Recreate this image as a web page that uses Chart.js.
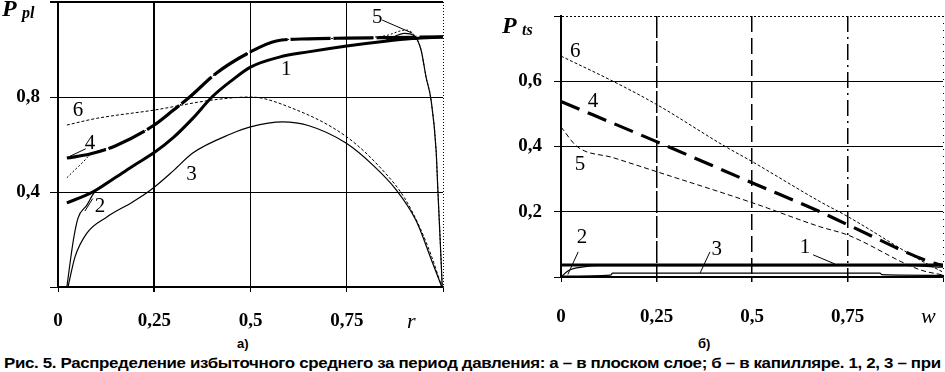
<!DOCTYPE html>
<html>
<head>
<meta charset="utf-8">
<script src="https://cdn.jsdelivr.net/npm/chart.js@4.4.1/dist/chart.umd.min.js"></script>
<style>
  body { margin: 0; background: #fff; width: 945px; height: 372px; overflow: hidden; position: relative; }
  canvas { position: absolute; top: 0; }
  #chartA { left: 0; }
  #chartB { left: 470px; }
  .sub { position: absolute; top: 336px; font: bold 13px "Liberation Sans", Arial, sans-serif; }
  #caption { position: absolute; left: 4px; top: 354px; white-space: nowrap; transform-origin: 0 0;
             font: bold 15px "Liberation Sans", Arial, sans-serif; letter-spacing: -0.3px; }
</style>
</head>
<body>
<canvas id="chartA" width="460" height="335"></canvas>
<canvas id="chartB" width="475" height="335"></canvas>
<div class="sub" style="left:237px">а)</div>
<div class="sub" style="left:698px">б)</div>
<div id="caption">Рис. 5. Распределение избыточного среднего за период давления: а – в плоском слое; б – в капилляре. 1, 2, 3 – при</div>

<script>
// а) плоский слой: P_pl(r)
const rA1 = [0.023, 0.09, 0.15, 0.2, 0.25, 0.3, 0.35, 0.4, 0.45, 0.5, 0.575, 0.65, 0.75, 0.85, 0.92, 1.0];
const pA1 = [0.354, 0.4, 0.462, 0.515, 0.566, 0.63, 0.71, 0.8, 0.868, 0.926, 0.968, 0.99, 1.015, 1.035, 1.046, 1.053];

const rA2 = [0.023, 0.04, 0.052, 0.075, 0.095, 0.15, 0.2, 0.25, 0.3, 0.35, 0.4, 0.45, 0.5, 0.575, 0.65, 0.75, 0.85, 0.9, 0.925, 0.943, 0.956, 0.969, 0.982, 0.987, 0.995, 0.998];
const pA2 = [0, 0.198, 0.29, 0.345, 0.4, 0.462, 0.515, 0.566, 0.63, 0.71, 0.8, 0.868, 0.926, 0.968, 0.99, 1.015, 1.038, 1.068, 1.058, 0.998, 0.884, 0.787, 0.577, 0.396, 0.114, 0];

const rA3 = [0.026, 0.044, 0.075, 0.127, 0.194, 0.238, 0.3, 0.35, 0.45, 0.5, 0.583, 0.65, 0.748, 0.82, 0.878, 0.93, 0.97, 0.997];
const pA3 = [0, 0.126, 0.227, 0.295, 0.358, 0.405, 0.49, 0.564, 0.645, 0.674, 0.695, 0.68, 0.606, 0.51, 0.41, 0.28, 0.114, 0];

const rA4 = [0.023, 0.083, 0.15, 0.25, 0.3, 0.342, 0.411, 0.5, 0.567, 0.65, 0.75, 0.85, 1.0];
const pA4 = [0.543, 0.56, 0.595, 0.682, 0.745, 0.8, 0.9, 0.99, 1.036, 1.045, 1.048, 1.05, 1.053];

const rA5 = [0.023, 0.045, 0.065, 0.083, 0.15, 0.25, 0.3, 0.342, 0.411, 0.5, 0.567, 0.65, 0.75, 0.85, 0.904, 0.925, 0.943, 0.956, 0.969, 0.982, 0.987, 0.995, 0.998];
const pA5 = [0.46, 0.495, 0.526, 0.556, 0.595, 0.682, 0.745, 0.8, 0.9, 0.99, 1.036, 1.045, 1.048, 1.058, 1.082, 1.061, 0.998, 0.884, 0.787, 0.577, 0.396, 0.114, 0];

const rA6 = [0.023, 0.1, 0.25, 0.4, 0.5, 0.6, 0.75, 0.85, 0.9, 0.94, 0.97, 0.997];
const pA6 = [0.682, 0.71, 0.745, 0.787, 0.8, 0.758, 0.632, 0.48, 0.375, 0.25, 0.13, 0];

// б) капилляр: P_ts(w)
const wB1 = [0, 1];
const pB1 = [0.037, 0.037];
const wB2 = [0, 0.02, 0.058, 0.1, 0.9, 1];
const pB2 = [0, 0.02, 0.031, 0.035, 0.035, 0.03];
const wB3 = [0, 0.13, 0.135, 0.835, 0.84, 1];
const pB3 = [0.003, 0.006, 0.012, 0.012, 0.007, 0.005];
const wB4 = [0, 0.25, 0.5, 0.678, 0.751, 0.966, 1];
const pB4 = [0.538, 0.415, 0.289, 0.2, 0.16, 0.046, 0.035];
const wB5 = [0, 0.042, 0.136, 0.25, 0.5, 0.678, 0.75, 0.94, 1];
const pB5 = [0.46, 0.4, 0.366, 0.323, 0.228, 0.154, 0.129, 0.022, 0.006];
const wB6 = [0, 0.136, 0.25, 0.43, 0.5, 0.678, 0.751, 0.94, 1];
const pB6 = [0.677, 0.6, 0.529, 0.4, 0.354, 0.231, 0.185, 0.052, 0.015];

// curve numbers (data coords) and leader lines
const noteTextA = ['6', '4', '1', '5', '3', '2'];
const noteRA = [0.052, 0.083, 0.593, 0.829, 0.347, 0.109];
const notePA = [0.745, 0.606, 0.914, 1.133, 0.472, 0.337];
const leadA = [[0.028, 0.548, 0.072, 0.582], [0.842, 1.124, 0.92, 1.069], [0.07, 0.32, 0.09, 0.372]];

const noteTextB = ['6', '4', '5', '2', '3', '1'];
const noteWB = [0.037, 0.084, 0.05, 0.055, 0.408, 0.639];
const notePB = [0.692, 0.538, 0.345, 0.12, 0.083, 0.089];
const leadB = [[0.045, 0.077, 0.018, 0.008], [0.39, 0.077, 0.364, 0.012], [0.66, 0.068, 0.717, 0.04]];

const fmt = v => String(Math.round(v * 100) / 100).replace('.', ',');

function series(xs, ys, width, dash) {
  return {
    data: xs.map((v, i) => ({ x: v, y: ys[i] })),
    borderColor: '#000',
    borderWidth: width,
    borderDash: dash,
    pointRadius: 0,
    fill: false,
    cubicInterpolationMode: 'monotone'
  };
}

function notes(texts, xs, ys, leads, title) {
  return {
    id: 'notes',
    afterDatasetsDraw(chart) {
      const { ctx, scales: { x, y } } = chart;
      ctx.save();
      ctx.strokeStyle = '#000';
      ctx.lineWidth = 1;
      leads.forEach(l => {
        ctx.beginPath();
        ctx.moveTo(x.getPixelForValue(l[0]), y.getPixelForValue(l[1]));
        ctx.lineTo(x.getPixelForValue(l[2]), y.getPixelForValue(l[3]));
        ctx.stroke();
      });
      ctx.fillStyle = '#000';
      ctx.font = '21px "Liberation Serif"';
      ctx.textAlign = 'center';
      ctx.textBaseline = 'middle';
      texts.forEach((t, i) => ctx.fillText(t, x.getPixelForValue(xs[i]), y.getPixelForValue(ys[i])));
      // axis titles
      ctx.textAlign = 'left';
      ctx.textBaseline = 'alphabetic';
      ctx.font = 'italic bold 24px "Liberation Serif"';
      ctx.fillText('P', title.px, title.py);
      ctx.font = 'italic bold 16px "Liberation Serif"';
      ctx.fillText(title.sub, title.px + 20, title.py + 2);
      ctx.font = 'italic 22px "Liberation Serif"';
      ctx.fillText(title.axis, title.ax, title.ay);
      ctx.restore();
    }
  };
}

function makeChart(id, datasets, yMax, yStep, yWidth, xHeight, pad, xGrid, yGrid, xPad, yTick, yPad, plugin) {
  return new Chart(document.getElementById(id), {
    type: 'line',
    data: { datasets: datasets },
    options: {
      responsive: false,
      animation: false,
      devicePixelRatio: 1,
      layout: { padding: pad },
      plugins: { legend: { display: false }, tooltip: { enabled: false } },
      scales: {
        x: {
          type: 'linear', min: 0, max: 1,
          afterFit: s => { s.height = xHeight; s.paddingLeft = 0; s.paddingRight = 0; },
          ticks: {
            stepSize: 0.25, padding: xPad, color: '#000', autoSkip: false, maxRotation: 0,
            font: { family: 'Liberation Serif', size: 19, weight: 'bold' },
            callback: v => (v >= 1 ? '' : fmt(v))
          },
          grid: { color: '#000', lineWidth: c => xGrid(c).w, tickLength: 5 },
          border: { color: '#000', width: 1.5, dash: c => (c.tick ? xGrid(c).d : []) }
        },
        y: {
          min: 0, max: yMax,
          afterFit: s => { s.width = yWidth; s.paddingTop = 0; s.paddingBottom = 0; },
          ticks: {
            stepSize: yStep, padding: yPad, color: '#000',
            font: { family: 'Liberation Serif', size: 19, weight: 'bold' },
            callback: v => (v <= 0 || v >= yMax - 1e-6 ? '' : fmt(v))
          },
          grid: { color: '#000', lineWidth: c => yGrid(c).w, tickLength: yTick },
          border: { color: '#000', width: 2, dash: c => (c.tick ? yGrid(c).d : []) }
        }
      }
    },
    plugins: [plugin]
  });
}

makeChart('chartA', [
    series(rA3, pA3, 1.2, []),
    series(rA6, pA6, 1, [3, 2]),
    series(rA2, pA2, 1.2, []),
    series(rA5, pA5, 1, [2, 2]),
    series(rA1, pA1, 3, []),
    series(rA4, pA4, 3.2, [40, 3])
  ], 1.2, 0.4, 58, 48, { top: 2, right: 17, left: 0, bottom: 0 },
  c => {
    const v = Math.round(c.tick.value * 100) / 100;
    if (v === 0.25) return { w: 2, d: [] };
    if (v === 1) return { w: 1, d: [1, 2] };
    return { w: 1, d: [] };
  },
  c => {
    const v = Math.round(c.tick.value * 100) / 100;
    if (v === 1.2) return { w: 2, d: [] };
    return { w: 1, d: [] };
  },
  18, 8, 10,
  notes(noteTextA, noteRA, notePA, leadA, { px: 2, py: 16, sub: 'pl', axis: 'r', ax: 407, ay: 328 })
);

makeChart('chartB', [
    series(wB3, pB3, 1.2, []),
    series(wB2, pB2, 1.2, []),
    series(wB1, pB1, 3, []),
    series(wB6, pB6, 1, [3, 2]),
    series(wB5, pB5, 1, [5, 3]),
    series(wB4, pB4, 3.2, [20, 9])
  ], 0.8, 0.2, 91, 58, { top: 16, right: 2, left: 0, bottom: 0 },
  c => {
    const v = Math.round(c.tick.value * 100) / 100;
    if (v === 0.25) return { w: 1.5, d: [22, 3] };
    if (v === 0.5) return { w: 1.5, d: [16, 6] };
    if (v === 0.75) return { w: 1.5, d: [16, 5, 2, 5] };
    if (v === 1) return { w: 1, d: [1, 6] };
    return { w: 1, d: [] };
  },
  c => {
    const v = Math.round(c.tick.value * 100) / 100;
    if (v === 0.8) return { w: 1, d: [2, 2] };
    return { w: 1, d: [] };
  },
  24, 7, 12,
  notes(noteTextB, noteWB, notePB, leadB, { px: 32, py: 33, sub: 'ts', axis: 'w', ax: 451, ay: 323 })
);

// stretch caption across the page width like the scanned figure
const cap = document.getElementById('caption');
cap.style.transform = 'scaleX(' + (937 / cap.scrollWidth) + ')';
</script>
</body>
</html>
